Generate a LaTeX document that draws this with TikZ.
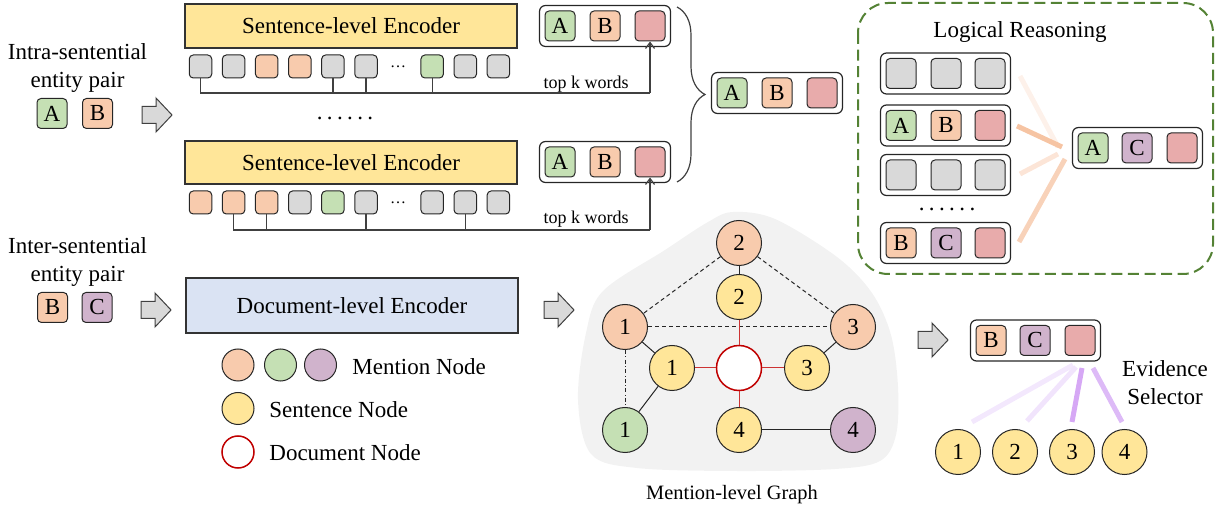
\documentclass[tikz,border=0pt]{standalone}
\usepackage{fontspec}
\setmainfont{Liberation Serif}
\usetikzlibrary{arrows.meta,decorations.pathreplacing,fit,calc}
\definecolor{cyel}{HTML}{FFE699}
\definecolor{cora}{HTML}{F8CBAD}
\definecolor{cgre}{HTML}{C5E0B4}
\definecolor{cpur}{HTML}{D0B3CC}
\definecolor{cred}{HTML}{E8ABAB}
\definecolor{cgra}{HTML}{D9D9D9}
\definecolor{cblu}{HTML}{DAE3F3}
\definecolor{cdash}{HTML}{548235}
\definecolor{cblob}{HTML}{F2F2F2}
\definecolor{cline}{HTML}{404040}
\definecolor{cdocred}{HTML}{C00000}
\definecolor{fanA}{HTML}{FDF1EA}
\definecolor{fanB}{HTML}{F6C4A3}
\definecolor{fanC}{HTML}{FCE5D7}
\definecolor{fanD}{HTML}{F8D2B9}
\definecolor{evA}{HTML}{F3E8FD}
\definecolor{evB}{HTML}{F1E4FC}
\definecolor{evC}{HTML}{D6A8F5}
\definecolor{evD}{HTML}{DDBAF7}
\newcommand{\sixdots}{.\hspace{2.2pt}.\hspace{2.2pt}.\hspace{2.2pt}.\hspace{2.2pt}.\hspace{2.2pt}.}
\tikzset{
  every node/.style={font=\fontsize{11.5}{14}\selectfont},
  sq/.style={draw=black!85, rounded corners=2pt, minimum size=15pt, inner sep=0pt, line width=0.5pt},
  tok/.style={draw=black!85, rounded corners=2pt, minimum width=11.25pt, minimum height=11.5pt, inner sep=0pt, line width=0.5pt},
  grp/.style={draw=black!85, rounded corners=3pt, inner sep=2.5pt, line width=0.6pt},
  enc/.style={draw=black!80, line width=0.6pt, inner sep=0pt, minimum width=166pt},
  gnode/.style={circle, draw=black!85, minimum size=22.5pt, inner sep=0pt, line width=0.5pt},
  lnode/.style={circle, draw=black!85, minimum size=16pt, inner sep=0pt, line width=0.5pt},
  conn/.style={draw=cline, line width=0.6pt},
  gedge/.style={draw=black!85, line width=0.5pt},
  redge/.style={draw=cdocred!80, line width=0.5pt},
  fan/.style={line width=2.5pt, line cap=butt},
  barrow/.pic={\draw[draw=cline, fill=cgra, line width=0.5pt] (0,-8.5) -- (14,-8.5) -- (14,-17) -- (30,0) -- (14,17) -- (14,8.5) -- (0,8.5) -- cycle;}
}
\begin{document}
\begin{tikzpicture}[x=0.5pt,y=-0.5pt]
\path[use as bounding box] (0,0) rectangle (1225,512);

% ---------- left labels ----------
\node[anchor=base] (intra1) at (77.5,60) {Intra-sentential};
\node[anchor=base] (intra2) at (77.5,88) {entity pair};
\node[sq,fill=cgre] (ia) at (52,113.5) {A};
\node[sq,fill=cora] (ib) at (97.5,113.5) {B};
\pic at (142,115) {barrow};

\node[anchor=base] (inter1) at (77.5,254) {Inter-sentential};
\node[anchor=base] (inter2) at (77.5,282) {entity pair};
\node[sq,fill=cora] (xb) at (52.5,307.5) {B};
\node[sq,fill=cpur] (xc) at (97,307.5) {C};
\pic at (141,310) {barrow};

% ---------- sentence encoders ----------
\node[enc,fill=cyel,minimum height=22pt] (enc1) at (351,26) {Sentence-level Encoder};
\node[enc,fill=cyel,minimum height=21.5pt] (enc2) at (351,162.5) {Sentence-level Encoder};
\node (vdots) at (345,118) {\sixdots};

\foreach \i/\c in {0/cgra,1/cgra,2/cora,3/cora,4/cgra,5/cgra,7/cgre,8/cgra,9/cgra}
  \node[tok,fill=\c] (ta\i) at ({200.5+33.1*\i},66.5) {};
\foreach \i/\c in {0/cora,1/cora,2/cora,3/cgra,4/cgre,5/cgra,7/cgra,8/cgra,9/cgra}
  \node[tok,fill=\c] (tb\i) at ({200.5+33.1*\i},202.5) {};
\node[font=\fontsize{8}{10}\selectfont] (tad) at (398,66.5) {…};
\node[font=\fontsize{8}{10}\selectfont] (tbd) at (398,202.5) {…};

% group boxes
\node[sq,fill=cgre] (g1a) at (560,26) {A};
\node[sq,fill=cora] (g1b) at (605,26) {B};
\node[sq,fill=cred] (g1c) at (650,26) {};
\node[grp,fit=(g1a)(g1c)] (g1) {};
\node[sq,fill=cgre] (g2a) at (560,162) {A};
\node[sq,fill=cora] (g2b) at (605,162) {B};
\node[sq,fill=cred] (g2c) at (650,162) {};
\node[grp,fit=(g2a)(g2c)] (g2) {};

% top k connectors
\coordinate (h1) at (650,93);
\draw[conn] (ta0.south) -- (ta0.south |- h1) -- (h1);
\foreach \i in {4,5,7} \draw[conn] (ta\i.south) -- (ta\i.south |- h1);
\draw[conn,-{Straight Barb[length=3pt,width=4.5pt]}] (h1) -- (g1c.south);
\node[font=\fontsize{9}{11}\selectfont] (tk1) at (586,84) {top k words};

\coordinate (h2) at (650,230);
\draw[conn] (tb1.south) -- (tb1.south |- h2) -- (h2);
\foreach \i in {2,5,8} \draw[conn] (tb\i.south) -- (tb\i.south |- h2);
\draw[conn,-{Straight Barb[length=3pt,width=4.5pt]}] (h2) -- (g2c.south);
\node[font=\fontsize{9}{11}\selectfont] (tk2) at (586,219) {top k words};

% brace
\coordinate (bt) at (677,7);
\coordinate (bb) at (677,182);
\draw[conn,decorate,decoration={brace,amplitude=14pt}] (bt) -- (bb);

% combined
\node[sq,fill=cgre] (ca) at (732,93) {A};
\node[sq,fill=cora] (cb) at (777,93) {B};
\node[sq,fill=cred] (cc) at (822,93) {};
\node[grp,fit=(ca)(cc)] (cg) {};

% ---------- logical reasoning ----------
\draw[cdash, line width=1pt, dash pattern=on 5.5pt off 2.8pt, rounded corners=15pt] (858,3) rectangle (1213,274);
\node (lrt) at (1020,32) {Logical Reasoning};

\node[sq,fill=cgra] (r1a) at (901,73.5) {};
\node[sq,fill=cgra] (r1b) at (946,73.5) {};
\node[sq,fill=cgra] (r1c) at (990,73.5) {};
\node[grp,fit=(r1a)(r1c)] (r1) {};
\node[sq,fill=cgre] (r2a) at (901,125.5) {A};
\node[sq,fill=cora] (r2b) at (946,125.5) {B};
\node[sq,fill=cred] (r2c) at (990,125.5) {};
\node[grp,fit=(r2a)(r2c)] (r2) {};
\node[sq,fill=cgra] (r3a) at (901,175) {};
\node[sq,fill=cgra] (r3b) at (946,175) {};
\node[sq,fill=cgra] (r3c) at (990,175) {};
\node[grp,fit=(r3a)(r3c)] (r3) {};
\node (lrdots) at (947,209) {\sixdots};
\node[sq,fill=cora] (r4a) at (901,243) {B};
\node[sq,fill=cpur] (r4b) at (946,243) {C};
\node[sq,fill=cred] (r4c) at (990,243) {};
\node[grp,fit=(r4a)(r4c)] (r4) {};

\node[sq,fill=cgre] (la) at (1093,148) {A};
\node[sq,fill=cpur] (lc) at (1137,148) {C};
\node[sq,fill=cred] (lr) at (1182,148) {};
\node[grp,fit=(la)(lr)] (lg) {};

\coordinate (f1s) at (1020,76);  \coordinate (f1e) at (1058,147);
\coordinate (f2s) at (1017,126); \coordinate (f2e) at (1062,147);
\coordinate (f3s) at (1020,174); \coordinate (f3e) at (1058,154);
\coordinate (f4s) at (1019,242); \coordinate (f4e) at (1065,159);
\draw[fan,fanA] (f1s) -- (f1e);
\draw[fan,fanC] (f3s) -- (f3e);
\draw[fan,fanD] (f4s) -- (f4e);
\draw[fan,fanB] (f2s) -- (f2e);

% ---------- document encoder ----------
\node[enc,fill=cblu,minimum height=27.5pt] (denc) at (352,305.5) {Document-level Encoder};
\pic at (544,310) {barrow};

% legend
\node[lnode,fill=cora] (lg1) at (238,365) {};
\node[lnode,fill=cgre] (lg2) at (280.5,365) {};
\node[lnode,fill=cpur] (lg3) at (320.5,365) {};
\node[anchor=west,inner sep=0pt] (lgt1) at (352,367) {Mention Node};
\node[lnode,fill=cyel] (lg4) at (238,408.5) {};
\node[anchor=west,inner sep=0pt] (lgt2) at (269,410) {Sentence Node};
\node[lnode,fill=white,draw=cdocred,line width=0.75pt] (lg5) at (238,452) {};
\node[anchor=west,inner sep=0pt] (lgt3) at (269,453) {Document Node};

% ---------- mention-level graph ----------
\fill[cblob] plot[smooth cycle, tension=0.55] coordinates {(733,212) (775,219) (837,257) (872,293) (891,335) (898,387) (896,435) (880,461) (835,469) (737,471) (637,468) (591,454) (578,400) (586,333) (603,291) (665,250) (708,222)};

\node[gnode,fill=cora] (o2) at (739,243) {2};
\node[gnode,fill=cyel] (y2) at (739,297) {2};
\node[gnode,fill=cora] (o1) at (625,327) {1};
\node[gnode,fill=cora] (o3) at (853,327) {3};
\node[gnode,fill=cyel] (y1) at (672,368) {1};
\node[gnode,fill=white,draw=cdocred,line width=0.75pt] (dn) at (739,368) {};
\node[gnode,fill=cyel] (y3) at (807,368) {3};
\node[gnode,fill=cgre] (gr1) at (625,430) {1};
\node[gnode,fill=cyel] (y4) at (739,430) {4};
\node[gnode,fill=cpur] (p4) at (853,430) {4};

\draw[gedge] (o2) -- (y2);
\draw[gedge] (o1) -- (y1);
\draw[gedge] (y1) -- (gr1);
\draw[gedge] (o3) -- (y3);
\draw[gedge] (y4) -- (p4);
\draw[gedge,dash pattern=on 2pt off 1.5pt] (o2) -- (o1);
\draw[gedge,dash pattern=on 2pt off 1.5pt] (o2) -- (o3);
\draw[gedge,dash pattern=on 2pt off 1.5pt] (o1) -- (o3);
\draw[gedge,dash pattern=on 2pt off 1.2pt on 0.4pt off 1.2pt] (o1) -- (gr1);
\draw[redge] (y2) -- (dn);
\draw[redge] (y1) -- (dn);
\draw[redge] (dn) -- (y3);
\draw[redge] (dn) -- (y4);

\node[font=\fontsize{10.2}{12}\selectfont] (mlg) at (732,495) {Mention-level Graph};

% ---------- evidence selector ----------
\pic at (918,340) {barrow};
\node[sq,fill=cora] (eb) at (991,340.5) {B};
\node[sq,fill=cpur] (ec) at (1035,340.5) {C};
\node[sq,fill=cred] (er) at (1080,340.5) {};
\node[grp,fit=(eb)(er)] (eg) {};
\node[align=center,font=\fontsize{11.5}{14}\selectfont] (evt) at (1165,383) {Evidence\\Selector};

\node[gnode,fill=cyel] (ev1) at (958,452) {1};
\node[gnode,fill=cyel] (ev2) at (1015,452) {2};
\node[gnode,fill=cyel] (ev3) at (1072,452) {3};
\node[gnode,fill=cyel] (ev4) at (1124.5,452) {4};

\coordinate (e1s) at (1073,365); \coordinate (e1e) at (972,422);
\coordinate (e2s) at (1076,367); \coordinate (e2e) at (1027,421);
\coordinate (e3s) at (1082,368); \coordinate (e3e) at (1072,422);
\coordinate (e4s) at (1093,368); \coordinate (e4e) at (1122,422);
\draw[fan,evA] (e1s) -- (e1e);
\draw[fan,evB] (e2s) -- (e2e);
\draw[fan,evC] (e3s) -- (e3e);
\draw[fan,evD] (e4s) -- (e4e);
\end{tikzpicture}
\end{document}
